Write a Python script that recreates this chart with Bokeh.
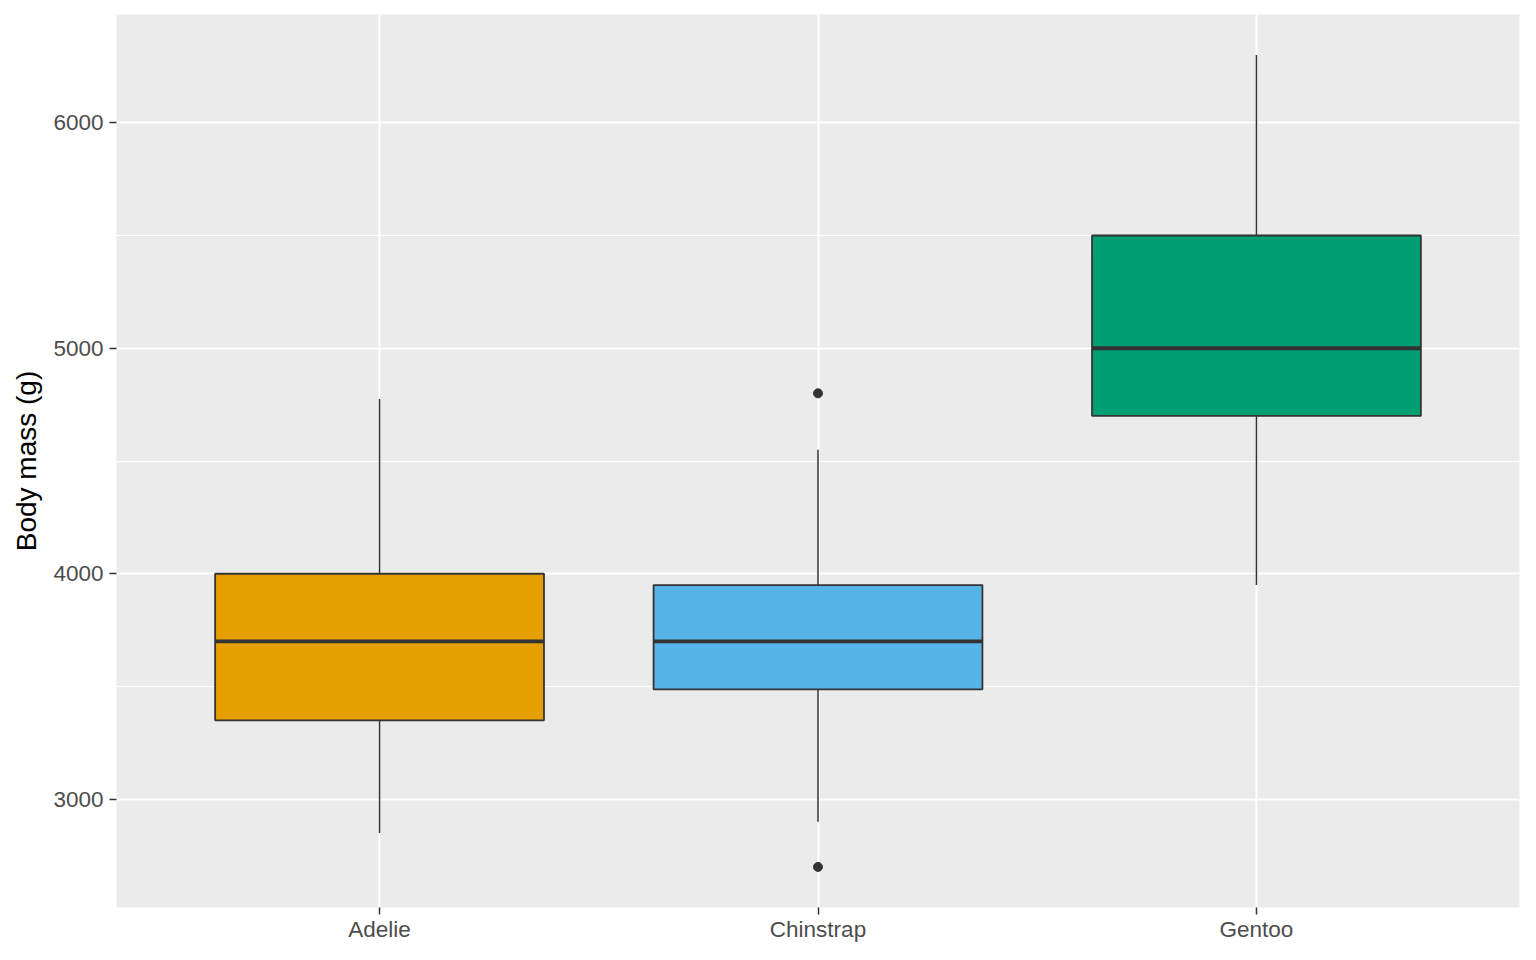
from bokeh.plotting import figure
from bokeh.models import Range1d, FixedTicker, ColumnDataSource
from bokeh.embed import file_html
from bokeh.resources import INLINE

species = ["Adelie", "Chinstrap", "Gentoo"]
colors = ["#E69F00", "#56B4E9", "#009E73"]
q1 = [3350, 3487.5, 4700]
median = [3700, 3700, 5000]
q3 = [4000, 3950, 5500]
lower = [2850, 2900, 3950]
upper = [4775, 4550, 6300]
out_species = ["Chinstrap", "Chinstrap"]
out_mass = [4800, 2700]

xpos = [i + 1 for i in range(len(species))]
half = 0.375

src = ColumnDataSource(dict(
    x=xpos, x0=[x - half for x in xpos], x1=[x + half for x in xpos],
    q1=q1, med=median, q3=q3, lo=lower, hi=upper, color=colors,
))

p = figure(width=1520, height=944, output_backend="svg", toolbar_location=None,
           x_range=Range1d(0.4, 3.6), y_range=Range1d(2520, 6480),
           min_border_left=116, min_border_right=1, min_border_top=14, min_border_bottom=36)
p.background_fill_color = "#EBEBEB"
p.border_fill_color = "white"
p.outline_line_color = None

# whiskers
p.segment("x", "q3", "x", "hi", source=src, line_color="#333333", line_width=1.5)
p.segment("x", "q1", "x", "lo", source=src, line_color="#333333", line_width=1.5)
# boxes
p.vbar(x="x", width=2 * half, bottom="q1", top="q3", source=src,
       fill_color="color", line_color="#333333", line_width=1.8)
# medians
p.segment("x0", "med", "x1", "med", source=src, line_color="#333333", line_width=3.8)
# outliers
ox = [xpos[species.index(s)] for s in out_species]
p.scatter(ox, out_mass, size=9, color="#333333")

p.xaxis.ticker = FixedTicker(ticks=xpos)
p.xaxis.major_label_overrides = {x: s for x, s in zip(xpos, species)}
p.yaxis.ticker = FixedTicker(ticks=[3000, 4000, 5000, 6000], minor_ticks=[3500, 4500, 5500])

for ax in (p.xaxis, p.yaxis):
    ax.axis_line_color = None
    ax.major_tick_line_color = "#333333"
    ax.major_tick_line_width = 1.5
    ax.major_tick_out = 7
    ax.major_tick_in = 0
    ax.minor_tick_line_color = None
    ax.major_label_text_font = "Liberation Sans"
    ax.major_label_text_font_size = "22.5px"
    ax.major_label_text_color = "#4D4D4D"
    ax.major_label_standoff = 6
p.xaxis.major_label_standoff = 2

p.yaxis.axis_label = "Body mass (g)"
p.yaxis.axis_label_text_font = "Liberation Sans"
p.yaxis.axis_label_text_font_size = "28px"
p.yaxis.axis_label_text_font_style = "normal"
p.yaxis.axis_label_text_color = "black"
p.yaxis.axis_label_standoff = 8

p.xgrid.grid_line_color = "white"
p.xgrid.grid_line_width = 2
p.ygrid.grid_line_color = "white"
p.ygrid.grid_line_width = 2
p.ygrid.minor_grid_line_color = "white"
p.ygrid.minor_grid_line_width = 1

open("out.html", "w").write(file_html(p, INLINE))
